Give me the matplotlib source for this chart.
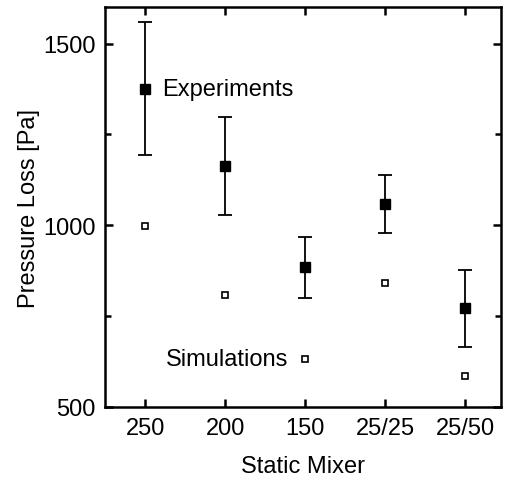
import matplotlib
matplotlib.use("Agg")
import matplotlib.pyplot as plt
from matplotlib.ticker import MultipleLocator

plt.rcParams["font.family"] = ["Liberation Sans", "DejaVu Sans"]

mixers = ["250", "200", "150", "25/25", "25/50"]
experiments = [1375, 1163, 884, 1058, 771]
exp_error = [183, 136, 83, 79, 107]
simulations = [997, 808, 633, 840, 586]

x = list(range(1, len(mixers) + 1))

fig = plt.figure(figsize=(5.06, 4.81), dpi=100)
ax = fig.add_axes([0.208, 0.152, 0.783, 0.831])

# experiments with error bars, simulations as open squares
ax.errorbar(x, experiments, yerr=exp_error, fmt="s", color="black",
            markersize=6.5, elinewidth=1.3, capsize=5, capthick=1.3)
ax.plot(x, simulations, "s", markerfacecolor="white", markeredgecolor="black",
        markersize=5, markeredgewidth=1.2, linestyle="none")

ax.text(1.21, experiments[0], "Experiments", fontsize=17, ha="left", va="center")
ax.text(2.79, simulations[2], "Simulations", fontsize=17, ha="right", va="center")

ax.set_xlim(0.5, 5.45)
ax.set_ylim(500, 1600)
ax.set_xticks(x)
ax.set_xticklabels(mixers)
ax.yaxis.set_major_locator(MultipleLocator(500))
ax.yaxis.set_minor_locator(MultipleLocator(250))

ax.set_xlabel("Static Mixer", fontsize=17, labelpad=12)
ax.set_ylabel("Pressure Loss [Pa]", fontsize=17, labelpad=2)

for s in ax.spines.values():
    s.set_linewidth(1.8)
ax.tick_params(which="both", direction="in", top=True, right=True,
               labelsize=17, width=1.8, pad=7)
ax.tick_params(which="major", length=6)
ax.tick_params(which="minor", length=4)
ax.tick_params(axis="x", which="minor", bottom=False, top=False)

fig.savefig("out.png", dpi=100)
